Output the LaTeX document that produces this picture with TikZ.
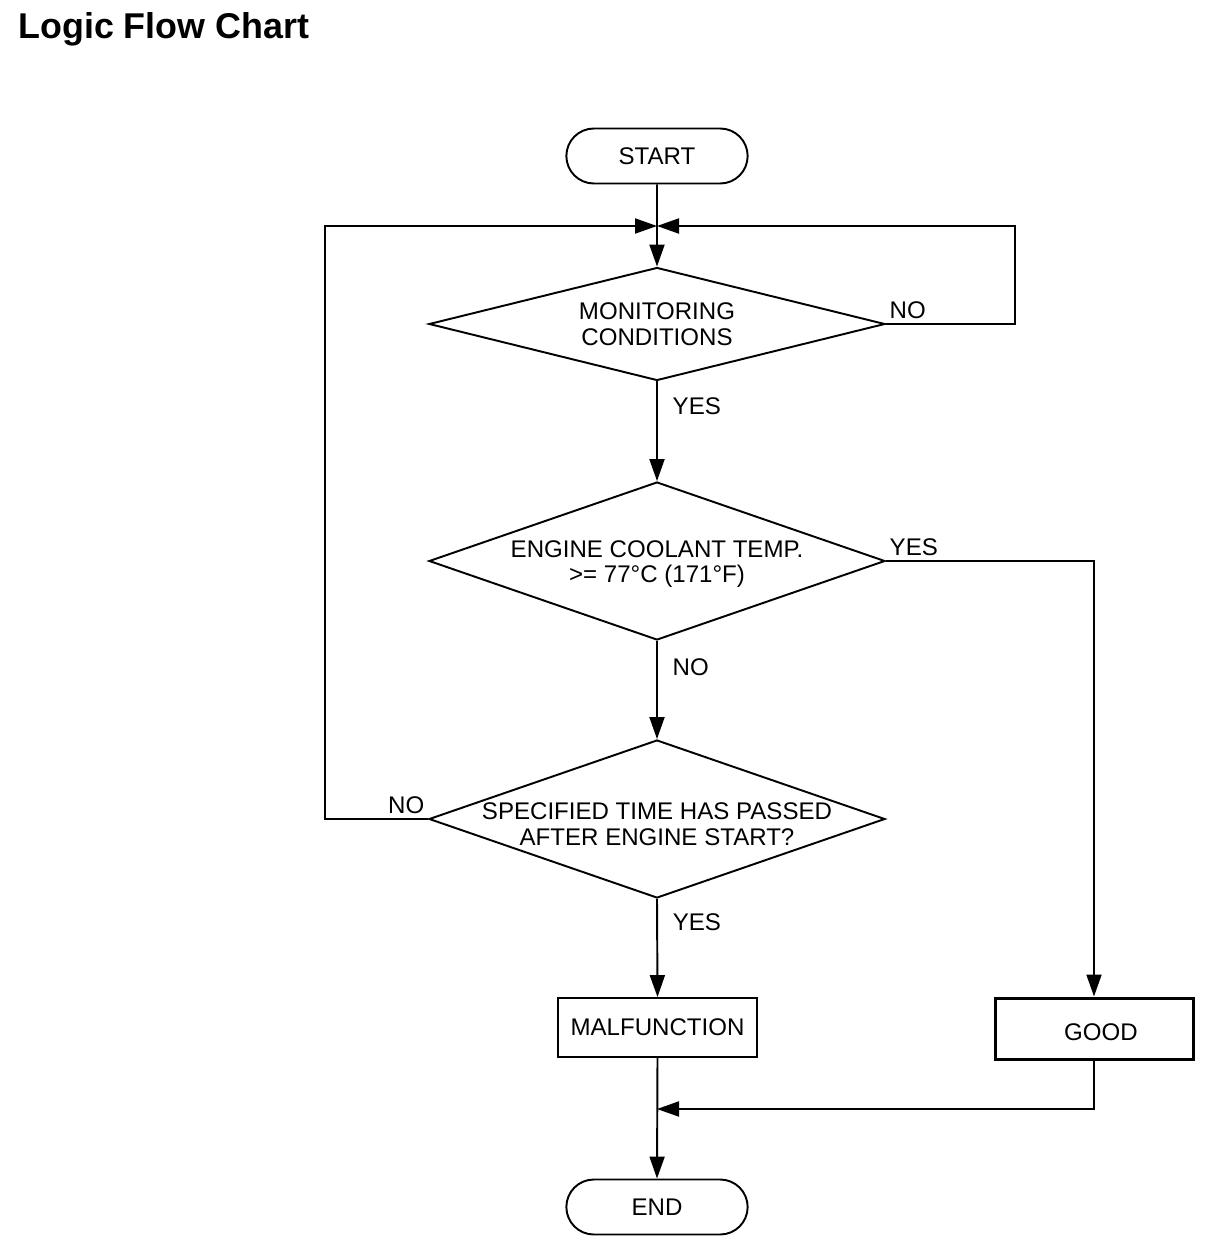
\documentclass[tikz,border=0pt]{standalone}
\usepackage{fontspec}
\setmainfont{Liberation Sans}
\usetikzlibrary{positioning, arrows.meta, shapes.geometric, shapes.misc}

\begin{document}
\begin{tikzpicture}[
    terminal/.style={rounded rectangle, draw, line width=1.1pt, minimum width=3.86cm, minimum height=1.1cm, font=\fontsize{13.7}{14.5}\selectfont},
    decision/.style={diamond, draw, line width=1.1pt, minimum width=9.12cm, inner sep=0pt},
    process/.style={rectangle, draw, line width=1.1pt, minimum width=3.98cm, minimum height=1.18cm, font=\fontsize{13.7}{14.5}\selectfont},
    dtext/.style={align=center, inner sep=0pt, font=\fontsize{13.7}{14.5}\selectfont},
    answer/.style={inner sep=1pt, font=\fontsize{13.7}{14.5}\selectfont},
    flow/.style={-{Triangle[length=0.44cm, width=0.3cm]}, line width=1.1pt},
    link/.style={line width=1.1pt}
]
\useasboundingbox (0, 0) rectangle (24.32, -25.08);

\node[anchor=base west, inner sep=0pt, font=\fontsize{20.4}{24}\selectfont\bfseries] (title) at (0.36, -0.76) {Logic Flow Chart};

\node[terminal] (start) at (13.14, -3.12) {START};
\node[decision, minimum height=2.26cm, label={[dtext]center:{MONITORING\\CONDITIONS}}] (monitor) at (13.14, -6.48) {};
\node[decision, minimum height=3.16cm, label={[dtext, yshift=-0.06cm]center:{ENGINE COOLANT TEMP.\\>= 77°C (171°F)}}] (coolant) at (13.14, -11.22) {};
\node[decision, minimum height=3.16cm, label={[dtext, yshift=-0.1cm]center:{SPECIFIED TIME HAS PASSED\\AFTER ENGINE START?}}] (timer) at (13.14, -16.38) {};
\node[process] (malfunction) at (13.15, -20.55) {MALFUNCTION};
\node[process, line width=1.7pt, minimum width=3.96cm, minimum height=1.22cm] (good) at (21.88, -20.57) {};
\node[font=\fontsize{13.7}{14.5}\selectfont] (goodtext) at (22.02, -20.64) {GOOD};
\node[terminal] (end) at (13.14, -24.14) {END};

\coordinate (join) at (13.14, -4.52);
\coordinate (merge) at (13.14, -22.18);

\draw[flow] (start) -- (monitor.north);
\draw[flow] (monitor.east) -- node[answer, pos=0, above right=0.05cm and 0.02cm] (mno) {NO} ++(2.58, 0) |- (join);
\draw[flow] (monitor.south) -- node[answer, pos=0.25, right=0.26cm] (myes) {YES} (coolant.north);
\draw[flow] (coolant.east) -- node[answer, pos=0, above right=0.05cm and 0.02cm] (cyes) {YES} ++(4.14, 0) -| (good.north);
\draw[flow] (coolant.south) -- node[answer, pos=0.27, right=0.26cm] (cno) {NO} (timer.north);
\draw[flow] (timer.west) -- node[answer, pos=0, above left=0.05cm and 0.02cm] (tno) {NO} ++(-2.06, 0) |- (join);
\draw[flow] (timer.south) -- node[answer, pos=0.24, right=0.26cm] (tyes) {YES} (malfunction.north);
\draw[flow] (malfunction.south) -- (end.north);
\draw[flow] (good.south) |- (merge);

\end{tikzpicture}
\end{document}
